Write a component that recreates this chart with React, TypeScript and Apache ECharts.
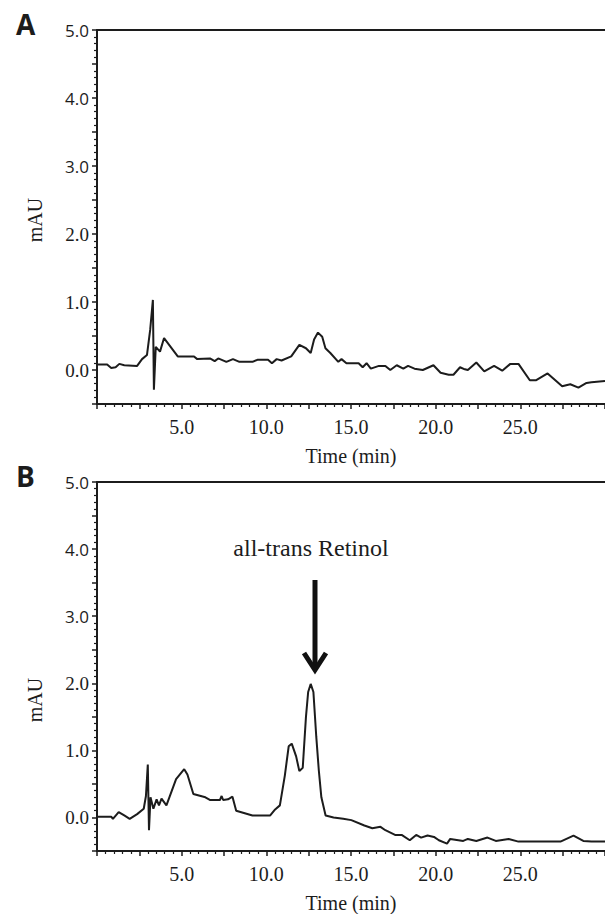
import React, { useEffect, useRef } from "react";
import * as echarts from "echarts";

// Panel A trace (time in min, absorbance in mAU)
const timeA = [0, 0.6, 0.84, 1.1, 1.32, 1.61, 2.37, 2.66, 2.95, 3.14, 3.3, 3.36, 3.47, 3.72, 3.96, 4.77, 5.73, 5.92, 6.67, 6.95, 7.16, 7.64, 8.03, 8.41, 9.18, 9.47, 10.1, 10.33, 10.61, 10.9, 11.47, 11.95, 12.34, 12.62, 12.82, 13.05, 13.3, 13.49, 13.78, 14.25, 14.44, 14.73, 15.45, 15.69, 15.92, 16.17, 16.65, 17.03, 17.32, 17.7, 18.09, 18.37, 18.75, 19.24, 19.87, 20.29, 20.77, 21.05, 21.44, 21.72, 21.9, 22.4, 22.87, 23.45, 23.93, 24.41, 24.89, 25.56, 25.94, 26.61, 27.47, 27.95, 28.43, 28.91, 29.2, 30];
const valA = [0.08, 0.08, 0.03, 0.04, 0.09, 0.07, 0.06, 0.16, 0.22, 0.59, 1.03, -0.29, 0.34, 0.27, 0.47, 0.2, 0.2, 0.16, 0.17, 0.13, 0.17, 0.12, 0.16, 0.12, 0.12, 0.15, 0.15, 0.1, 0.16, 0.14, 0.2, 0.37, 0.32, 0.25, 0.45, 0.55, 0.49, 0.32, 0.25, 0.12, 0.16, 0.1, 0.1, 0.04, 0.1, 0.02, 0.06, 0.06, 0.0, 0.07, 0.02, 0.06, 0.02, 0.0, 0.07, -0.04, -0.07, -0.07, 0.04, 0.01, 0.0, 0.11, -0.02, 0.06, -0.01, 0.09, 0.09, -0.15, -0.15, -0.05, -0.24, -0.21, -0.26, -0.19, -0.18, -0.16];

// Panel B trace
const timeB = [0, 0.85, 0.94, 1.28, 1.61, 1.93, 2.37, 2.76, 2.89, 3.0, 3.07, 3.16, 3.33, 3.52, 3.66, 3.81, 4.1, 4.67, 5.15, 5.34, 5.69, 6.4, 6.69, 7.26, 7.36, 7.45, 7.74, 8.0, 8.22, 9.18, 10.23, 10.52, 10.8, 11.09, 11.32, 11.5, 11.76, 11.95, 12.15, 12.34, 12.47, 12.62, 12.78, 12.95, 13.1, 13.25, 13.5, 13.97, 14.54, 15.02, 15.79, 16.26, 16.74, 17.03, 17.6, 17.99, 18.47, 18.85, 19.14, 19.52, 19.9, 20.19, 20.67, 20.86, 21.63, 21.9, 22.4, 23.06, 23.55, 24.31, 24.89, 27.37, 28.14, 28.72, 29.2, 30];
const valB = [0.01, 0.01, -0.02, 0.08, 0.03, -0.02, 0.05, 0.13, 0.32, 0.79, -0.19, 0.3, 0.13, 0.27, 0.18, 0.28, 0.18, 0.57, 0.72, 0.64, 0.35, 0.3, 0.26, 0.26, 0.32, 0.26, 0.27, 0.31, 0.1, 0.03, 0.03, 0.12, 0.18, 0.62, 1.06, 1.1, 0.91, 0.69, 0.74, 1.5, 1.87, 1.99, 1.87, 1.2, 0.7, 0.3, 0.03, 0.0, -0.02, -0.04, -0.12, -0.16, -0.14, -0.19, -0.26, -0.26, -0.34, -0.26, -0.3, -0.27, -0.29, -0.34, -0.39, -0.32, -0.35, -0.32, -0.35, -0.3, -0.35, -0.32, -0.36, -0.36, -0.27, -0.35, -0.36, -0.36];

const xMin = 0;
const xMax = 30;
const xTickStep = 2.5;
const xLabelStep = 5;
const yMin = -0.5;
const yMax = 5;
const yTickStep = 0.5;
const panelLetters = ["A", "B"];
const yAxisTitle = "mAU";
const xAxisTitle = "Time (min)";
const annotationText = "all-trans Retinol";

const INK = "#1c1c1c";
const SERIF = "Liberation Serif";
const SANS = "Open Sans";

function zip(t: number[], v: number[]) {
  return t.map((x, i) => [x, v[i]]);
}

function bottomX(gi: number) {
  return {
    type: "value",
    gridIndex: gi,
    position: "bottom",
    min: xMin,
    max: xMax,
    interval: xTickStep,
    axisLine: { show: true, onZero: false, lineStyle: { color: INK, width: 2 } },
    axisTick: { show: true, length: 5, lineStyle: { color: INK, width: 1.5 } },
    minorTick: { show: true, splitNumber: 5, length: 3, lineStyle: { color: INK, width: 1.2 } },
    splitLine: { show: false },
    minorSplitLine: { show: false },
    axisLabel: {
      margin: 13,
      fontFamily: SERIF,
      fontSize: 20,
      color: INK,
      showMaxLabel: false,
      formatter: (v: number) =>
        v > 0 && Math.abs(v % xLabelStep) < 1e-6 ? v.toFixed(1) : "",
    },
    name: xAxisTitle,
    nameLocation: "middle",
    nameGap: 42,
    nameTextStyle: { fontFamily: SERIF, fontSize: 20, color: INK },
  };
}

function topX(gi: number) {
  return {
    type: "value",
    gridIndex: gi,
    position: "top",
    min: xMin,
    max: xMax,
    axisLine: { show: true, onZero: false, lineStyle: { color: INK, width: 2 } },
    axisTick: { show: false },
    axisLabel: { show: false },
    splitLine: { show: false },
  };
}

function leftY(gi: number) {
  return {
    type: "value",
    gridIndex: gi,
    min: yMin,
    max: yMax,
    interval: yTickStep,
    axisLine: { show: true, onZero: false, lineStyle: { color: INK, width: 2 } },
    axisTick: { show: true, length: 5, lineStyle: { color: INK, width: 1.5 } },
    minorTick: { show: true, splitNumber: 5, length: 3, lineStyle: { color: INK, width: 1.2 } },
    splitLine: { show: false },
    axisLabel: {
      margin: 8,
      color: INK,
      fontFamily: SERIF,
      fontSize: 19,
      formatter: (v: number) => {
        if (Math.abs(v - Math.round(v)) > 1e-6 || v < 0) return "";
        const s = v.toFixed(1);
        return v >= 3 ? `{s|${s}}` : `{r|${s}}`;
      },
      rich: {
        s: { fontFamily: SANS, fontSize: 17, color: INK },
        r: { fontFamily: SERIF, fontSize: 19, color: INK },
      },
    },
  };
}

export default function App() {
  const ref = useRef<HTMLDivElement>(null);
  useEffect(() => {
    if (!ref.current) return;
    const chart = echarts.init(ref.current, null, { renderer: "svg" });
    chart.setOption({
      animation: false,
      backgroundColor: "#ffffff",
      grid: [
        { left: 97, top: 30, right: -14, height: 374, containLabel: false },
        { left: 97, top: 482, right: -14, height: 373, containLabel: false },
      ],
      xAxis: [bottomX(0), topX(0), bottomX(1), topX(1)],
      yAxis: [leftY(0), leftY(1)],
      series: [
        {
          type: "line",
          xAxisIndex: 0,
          yAxisIndex: 0,
          data: zip(timeA, valA),
          showSymbol: false,
          symbol: "none",
          lineStyle: { color: INK, width: 2 },
          z: 3,
        },
        {
          type: "line",
          xAxisIndex: 2,
          yAxisIndex: 1,
          data: zip(timeB, valB),
          showSymbol: false,
          symbol: "none",
          lineStyle: { color: INK, width: 2 },
          z: 3,
        },
      ],
      graphic: [
        {
          type: "text",
          left: 16,
          top: 10,
          style: { text: panelLetters[0], font: `bold 28px "${SANS}"`, fill: INK },
        },
        {
          type: "text",
          left: 16,
          top: 462,
          style: { text: panelLetters[1], font: `bold 28px "${SANS}"`, fill: INK },
        },
        {
          type: "text",
          x: 35,
          y: 220,
          rotation: Math.PI / 2,
          style: {
            text: yAxisTitle,
            font: `20px "${SERIF}"`,
            fill: INK,
            align: "center",
            verticalAlign: "middle",
          },
        },
        {
          type: "text",
          x: 35,
          y: 700,
          rotation: Math.PI / 2,
          style: {
            text: yAxisTitle,
            font: `20px "${SERIF}"`,
            fill: INK,
            align: "center",
            verticalAlign: "middle",
          },
        },
        {
          type: "text",
          x: 311,
          y: 548,
          style: {
            text: annotationText,
            font: `24px "${SERIF}"`,
            fill: INK,
            align: "center",
            verticalAlign: "middle",
          },
        },
        {
          type: "line",
          shape: { x1: 315, y1: 580, x2: 315, y2: 668 },
          style: { stroke: "#111", lineWidth: 5 },
        },
        {
          type: "polyline",
          shape: { points: [[304, 653], [315, 670], [326, 653]] },
          style: { stroke: "#111", lineWidth: 5, fill: "none", lineJoin: "miter" },
        },
      ],
    });
    return () => chart.dispose();
  }, []);
  return (
    <div
      ref={ref}
      style={{ position: "absolute", left: 0, top: 0, width: 605, height: 914 }}
    />
  );
}
